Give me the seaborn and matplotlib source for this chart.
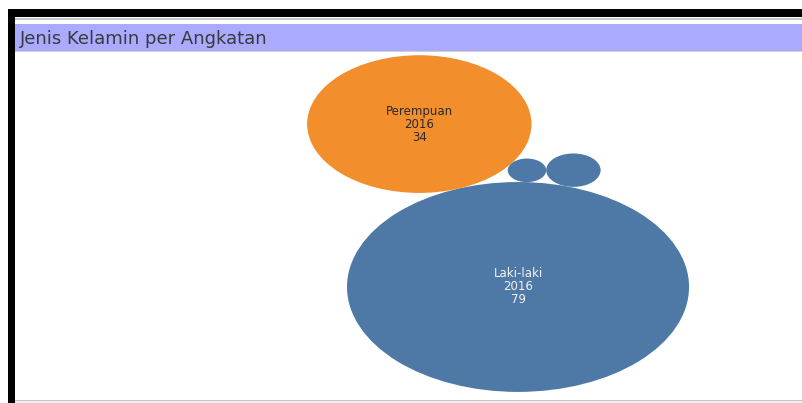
import matplotlib
matplotlib.use("Agg")
import matplotlib.pyplot as plt
import numpy as np
import pandas as pd
import seaborn as sns
from matplotlib.patches import Circle, Rectangle

# data (bubble size = jumlah mahasiswa)
jenis_kelamin = ["Laki-laki", "Perempuan", "Laki-laki", "Laki-laki"]
angkatan = ["2016", "2016", "2017", "2015"]
jumlah = [79, 34, 1, 2]

judul = "Jenis Kelamin per Angkatan"
warna = {"Laki-laki": "#4E79A7", "Perempuan": "#F28E2B"}
warna_teks = {"Laki-laki": "#f2f2f2", "Perempuan": "#2b2b2b"}

df = pd.DataFrame({"jk": jenis_kelamin, "angkatan": angkatan, "jumlah": jumlah})
df["r"] = np.sqrt(df["jumlah"])

sns.set_theme(style="white")
plt.rcParams["font.family"] = ["DejaVu Sans"]


def singgung(ca, ra, cb, rb, r, sisi=-1):
    # posisi lingkaran baru yang menyinggung dua lingkaran lain
    ca, cb = np.array(ca), np.array(cb)
    da, db = ra + r, rb + r
    d = np.linalg.norm(cb - ca)
    u = (cb - ca) / d
    a = (da**2 - db**2 + d**2) / (2 * d)
    h = np.sqrt(max(da**2 - a**2, 0))
    perp = np.array([-u[1], u[0]])
    return ca + a * u + sisi * h * perp


# packing sederhana: terbesar di tengah, lalu berantai searah jarum jam
r = df["r"].values
pusat = [np.array([0.0, 0.0])]
sudut = np.deg2rad(110.4)
pusat.append((r[0] + r[1]) * np.array([np.cos(sudut), np.sin(sudut)]))
pusat.append(singgung(pusat[0], r[0], pusat[1], r[1], r[2]))
pusat.append(singgung(pusat[0], r[0], pusat[2], r[2], r[3]))
df["x"] = [p[0] for p in pusat]
df["y"] = [p[1] for p in pusat]

W, H = 803, 403
fig = plt.figure(figsize=(W / 100, H / 100), dpi=100)
fig.patch.set_facecolor("white")


def kotak(x0, y0, x1, y1, c):
    fig.add_artist(Rectangle((x0 / W, 1 - y1 / H), (x1 - x0) / W, (y1 - y0) / H,
                             transform=fig.transFigure, color=c, lw=0))


kotak(8, 9, W, 17, "black")
kotak(15, 18.5, W, 19.5, "#c8c8c8")
kotak(15, 24, W, 51, "#aaaaff")
kotak(15, 51, W, 52, "#d0d0d0")
kotak(15, 399.5, W, 400.5, "#c8c8c8")
kotak(15, 400.5, W, H, "#efefef")
kotak(8, 9, 15, H, "black")

fig.text(20 / W, 1 - 38.5 / H, judul, fontsize=13, color="#3a3a3a",
         ha="left", va="center")

ax = fig.add_axes([16 / W, (H - 399.5) / H, (W - 16) / W, (399.5 - 52) / H])
ax.set_xlim(-26.09, 14.81)
ax.set_ylim(-9.53, 19.90)
ax.axis("off")

for _, row in df.iterrows():
    ax.add_patch(Circle((row["x"], row["y"]), row["r"], color=warna[row["jk"]], lw=0))
    if row["jumlah"] >= 10:
        ax.text(row["x"], row["y"], f"{row['jk']}\n{row['angkatan']}\n{row['jumlah']}",
                ha="center", va="center", fontsize=8.5, color=warna_teks[row["jk"]],
                linespacing=1.0)

fig.savefig("out.png", dpi=100)
